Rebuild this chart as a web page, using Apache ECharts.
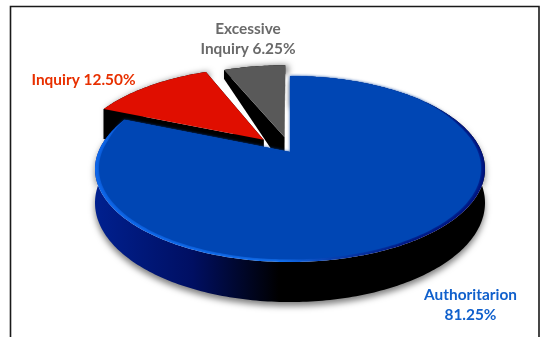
<!DOCTYPE html>
<html>
<head>
<meta charset="utf-8">
<style>html,body{margin:0;padding:0;background:#fff}#chart{width:541px;height:337px}</style>
<script src="https://cdn.jsdelivr.net/npm/echarts@6/dist/echarts.min.js"></script>
</head>
<body>
<div id="chart"></div>
<script>
// Leadership-style shares
const categories = ['Authoritarian', 'Inquiry', 'Excessive Inquiry'];
const shares = [81.25, 12.5, 6.25];

// Tilted-disc projection: a unit circle seen in perspective
const CX = 290, CY = 152, RX = 191.7, RY = 89.9, PERSP = 0.183;
const TOTAL = shares.reduce((a, b) => a + b, 0);

const look = [
  { face: '#0046b4', depth: 32.7, rimDepth: 32.7, explode: [0, 0], z: 3, text: '#1060cc', lines: n => ['Authoritarion', n], at: [470.5, 305] },
  { face: '#e00e00', depth: 32.7, rimDepth: 32.7, explode: [-0.141, 0.141], z: 2, text: '#e83000', lines: n => ['Inquiry ' + n], at: [83.5, 80] },
  { face: '#595959', depth: 32.7, rimDepth: 11, explode: [-0.03, 0.172], z: 1, text: '#6a6a6a', lines: n => ['Excessive', 'Inquiry ' + n], at: [248, 39] }
];

function project(sn, cs, off, scale, drop) {
  const u = sn * scale + off[0], v = cs * scale + off[1];
  const w = 1 + PERSP * v;
  return [CX + RX * u / w, CY - (RY * v - drop) / w];
}
function arc(a0, a1, off, drop, bevel) {
  const pts = [], n = Math.max(8, Math.round((a1 - a0) * 60));
  for (let i = 0; i <= n; i++) {
    const t = a0 + (a1 - a0) * i / n;
    pts.push(project(Math.sin(t), Math.cos(t), off, bevel ? bevel(t) : 1, drop));
  }
  return pts;
}
const horiz = (x0, x1, stops) => ({
  type: 'linear', global: true, x: x0, y: 0, x2: x1, y2: 0,
  colorStops: stops.map(s => ({ offset: s[0], color: s[1] }))
});

function renderSlice(params, api) {
  const i = params.dataIndex, s = look[i];
  let before = 0;
  for (let k = 0; k < i; k++) before += shares[k];
  const a0 = before / TOTAL * 2 * Math.PI;
  const a1 = a0 + api.value(0) / TOTAL * 2 * Math.PI;
  const apex = project(0, 0, s.explode, 1, 0);
  const apexLow = project(0, 0, s.explode, 1, s.depth);
  const top = arc(a0, a1, s.explode, 0);
  const low = arc(a0, a1, s.explode, s.rimDepth);
  const children = [];
  const isMain = i === 0;
  const wall = isMain
    ? horiz(95, 486, [[0, '#00208f'], [0.25, '#000f62'], [0.47, '#000000'], [1, '#000000']])
    : '#000000';

  // Outer wall, carrying the soft cast shadow
  children.push({
    type: 'polygon', z2: s.z,
    shape: { points: top.concat(low.slice().reverse()) },
    style: { fill: wall, shadowBlur: 6, shadowColor: 'rgba(0,0,0,0.5)', shadowOffsetX: isMain ? 0 : 3, shadowOffsetY: isMain ? 4 : 0 }
  });
  // Cut faces on either side of the wedge
  children.push({
    type: 'polygon', z2: s.z,
    shape: { points: [apex, top[0], low[0], apexLow] },
    style: { fill: '#000' }
  });
  children.push({
    type: 'polygon', z2: s.z,
    shape: { points: [apex, top[top.length - 1], low[low.length - 1], apexLow] },
    style: { fill: '#000' }
  });

  if (isMain) {
    // Bevel rim, then the face inset from it
    children.push({
      type: 'polygon', z2: s.z,
      shape: { points: [apex].concat(top) },
      style: { fill: horiz(95, 486, [[0, '#0d66ea'], [0.48, '#1471f0'], [0.6, '#0a3fb0'], [0.8, '#00127e'], [1, '#00127e']]) }
    });
    const inset = t => {
      const fade = Math.min(1, Math.max(0, (t - 0.85) / 0.4)) * Math.min(1, Math.max(0, (a1 - t) / 0.25));
      return 1 - 0.02 * fade;
    };
    children.push({
      type: 'polygon', z2: s.z,
      shape: { points: [apex].concat(arc(a0, a1, s.explode, 0, inset)) },
      style: { fill: s.face, shadowBlur: 3, shadowColor: s.face }
    });
  } else {
    children.push({
      type: 'polygon', z2: s.z,
      shape: { points: [apex].concat(top) },
      style: { fill: s.face }
    });
  }

  // Label built from the slice's share
  const pct = api.value(0).toFixed(2) + '%';
  children.push({
    type: 'text', z2: 10,
    style: {
      x: s.at[0], y: s.at[1], text: s.lines(pct).join('\n'), fill: s.text,
      font: 'bold 15.4px Lato', lineHeight: 20, align: 'center', verticalAlign: 'middle'
    }
  });
  return { type: 'group', children };
}

const chart = echarts.init(document.getElementById('chart'), null, { renderer: 'canvas' });
chart.setOption({
  animation: false,
  backgroundColor: '#ffffff',
  graphic: [{
    type: 'polyline', silent: true,
    shape: { points: [[10.5, 337], [10.5, 6.5], [539, 6.5], [539, 337]] },
    style: { stroke: '#1a1a1a', lineWidth: 1.6, fill: null }
  }],
  series: [{
    type: 'custom',
    coordinateSystem: 'none',
    renderItem: renderSlice,
    data: categories.map((name, i) => ({ name, value: [shares[i]] }))
  }]
});
</script>
</body>
</html>
